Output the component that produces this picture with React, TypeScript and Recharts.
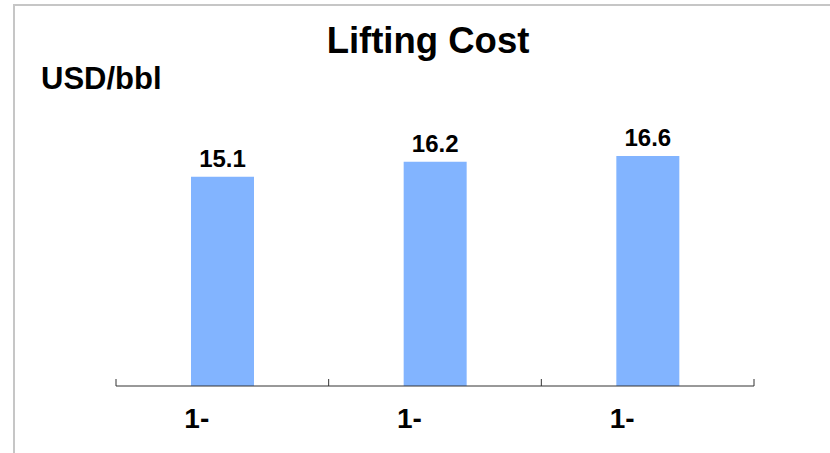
import React from 'react';
import { BarChart, Bar, XAxis, YAxis, LabelList } from 'recharts';

const categories = ['1-', '1-', '1-'];
const liftingCost = [15.1, 16.2, 16.6];
const yDomain = [0, 20];

const chartData = categories.map((name, i) => ({ name, cost: liftingCost[i] }));

const FONT = '"Liberation Sans", Arial, sans-serif';

// category label plus the upward tick marks sitting on the band edges
function BandTick(props: any) {
  const { x, y, payload, index, visibleTicksCount, width } = props;
  const half = payload?.offset || width / visibleTicksCount / 2;
  const isLast = index === visibleTicksCount - 1;
  return (
    <g>
      <line x1={x - half} x2={x - half} y1={y} y2={y - 7} stroke="#333" strokeWidth={1} />
      {isLast && <line x1={x + half} x2={x + half} y1={y} y2={y - 7} stroke="#333" strokeWidth={1} />}
      <text x={x - 38} y={y + 42} textAnchor="start" fontFamily={FONT} fontWeight="bold" fontSize={28} fill="#000">
        {payload.value}
      </text>
    </g>
  );
}

export default function App() {
  return (
    <div style={{ position: 'absolute', left: 0, top: 0, width: 830, height: 453, overflow: 'hidden', background: '#fff' }}>
      <div
        style={{
          position: 'absolute',
          left: 13,
          top: 4,
          width: 830,
          height: 460,
          borderTop: '2px solid #c6c6c6',
          borderLeft: '2px solid #c6c6c6',
        }}
      />
      <BarChart
        width={830}
        height={453}
        data={chartData}
        margin={{ top: 109, right: 76, bottom: 7, left: 116 }}
        style={{ position: 'absolute', left: 0, top: 0 }}
      >
        <XAxis
          dataKey="name"
          height={60}
          axisLine={{ stroke: '#333', strokeWidth: 1 }}
          tickLine={false}
          tickSize={0}
          tickMargin={0}
          tick={<BandTick />}
          interval={0}
        />
        <YAxis hide domain={yDomain} />
        <Bar dataKey="cost" fill="#82b4ff" barSize={63} isAnimationActive={false}>
          <LabelList
            dataKey="cost"
            position="top"
            offset={10}
            fontFamily={FONT}
            fontWeight="bold"
            fontSize={24}
            fill="#000"
          />
        </Bar>
      </BarChart>
      <svg width={830} height={453} style={{ position: 'absolute', left: 0, top: 0, pointerEvents: 'none' }}>
        <text x={428} y={53} textAnchor="middle" fontFamily={FONT} fontWeight="bold" fontSize={36.5} fill="#000">
          Lifting Cost
        </text>
        <text x={41} y={89} textAnchor="start" fontFamily={FONT} fontWeight="bold" fontSize={31} fill="#000">
          USD/bbl
        </text>
      </svg>
    </div>
  );
}
